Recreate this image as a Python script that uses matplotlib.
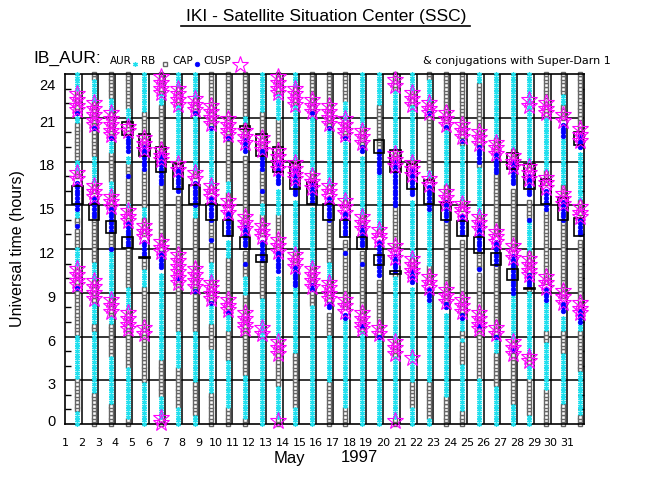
import numpy as np
import matplotlib
matplotlib.use("Agg")
import matplotlib.pyplot as plt
from matplotlib.patches import Rectangle
from matplotlib.lines import Line2D
from matplotlib.transforms import ScaledTranslation

# ---- data (hours UT, one entry per day of May 1997) ----
days = list(range(1, 32))

# intervals where the probe was in the auroral region (cyan asterisks);
# everything else in the day is radiation belt (grey squares)
aur_spans = [
    [(23, 24), (20.6, 21), (17.4, 18.1), (14.2, 14.7), (10.8, 12), (3.1, 6.1), (0, 0.8)],
    [(22.2, 23.6), (16.7, 18.4), (9.9, 11), (7, 8.3), (2.1, 6.3)],
    [(21.5, 22.3), (18.7, 19.5), (15.8, 16.6), (8.7, 12), (7, 7.4), (1.5, 4.5)],
    [(21, 21.5), (17.9, 18.4), (14.9, 15.2), (8, 9.3), (0.4, 3.8)],
    [(21.3, 24), (14.2, 14.9), (9.5, 10.5), (0, 2.8)],
    [(22, 22.6), (4.4, 10.5), (0.5, 1.9)],
    [(23.1, 24), (18.1, 21.8), (3.8, 6.4), (0, 1.2)],
    [(22.3, 24), (17.4, 21.2), (14.2, 14.9), (2.9, 6.4), (0, 0.5)],
    [(16.5, 20.3), (9.9, 11), (7, 8.3), (2.1, 5.1)],
    [(16, 16.6), (11.5, 12.7), (6.5, 7.6), (1.2, 4.4)],
    [(20.7, 21.0), (9, 10), (0.5, 3.4)],
    [(21.5, 24), (14.5, 15.2), (0, 8.5)],
    [(21, 22.6), (14.5, 16.3), (6, 10.3), (0.3, 2.5)],
    [(23.2, 24), (18.1, 21.8), (11.8, 15.6), (5, 9.4), (0, 1.2)],
    [(17.4, 21.1), (10.8, 15.1), (0, 8)],
    [(16.5, 20.3), (9.9, 11), (3, 6)],
    [(21, 22), (15.5, 19.5), (1.2, 7.2)],
    [(20.5, 24), (14.5, 18.5), (0, 6.4)],
    [(22, 24), (13.5, 17), (0, 5.8)],
    [(19, 22.9), (6, 10.2), (0.5, 4.5)],
    [(23, 24), (18.1, 21.8), (11.5, 15.6), (3, 9.6), (0, 1.0)],
    [(22.2, 23.5), (16.9, 17.4), (11, 14.5), (3, 8.3), (0, 0.3)],
    [(16.5, 20), (2, 7.5)],
    [(15.5, 19), (6.4, 7.2), (5.7, 5.9), (0.9, 4.2)],
    [(23.3, 24), (14.5, 17.5), (0, 3.1)],
    [(19.7, 24), (5, 5.8), (0, 2.6)],
    [(18.8, 24), (6, 9), (0, 1.4)],
    [(18, 24), (12, 14), (5, 9.2), (3.1, 4.2), (0, 0.7)],
    [(17.4, 21), (6.5, 8.5), (2.3, 5.5)],
    [(22, 22.5), (16.5, 19.5), (6.5, 7.5), (1.4, 4.8)],
    [(15.5, 18.5), (6.5, 6.9), (0.7, 3.7)],
]

# polar cap (blue dots); (t, t) is a single dot
cap_spans = [
    [(14.7, 16.7), (13.6, 13.6), (21.3, 21.3), (9.3, 9.3)],
    [(14.2, 15.7), (20.3, 20.3)],
    [(13.2, 14.8), (12, 12), (19.6, 19.6)],
    [(18.6, 19.8), (17, 17), (12.2, 13.8)],
    [(17.4, 19), (11.5, 12.7)],
    [(16.5, 18.6), (10.6, 11.8)],
    [(15.8, 17.6), (10, 10)],
    [(14.9, 16.7), (21.3, 21.3), (9.1, 9.1)],
    [(14, 15.7), (12.6, 12.6), (20.3, 20.3), (8.3, 8.3)],
    [(12.8, 14.7), (19.6, 19.6), (7.7, 7.7)],
    [(18.6, 19.5), (12.1, 13.6), (11, 11)],
    [(17.4, 18.8), (16, 16), (11.2, 12.7)],
    [(16.3, 18.1), (10.3, 11.8)],
    [(15.6, 17.6), (9.4, 10.8)],
    [(15.1, 16.5), (21.3, 21.3), (9.2, 9.5)],
    [(14, 15.7), (20.3, 20.3), (7.8, 8.3)],
    [(12.8, 14.7), (11.7, 11.7), (19.6, 19.6), (7.2, 7.7)],
    [(18.6, 19.1), (12.1, 13.6), (11, 11), (6.7, 6.7)],
    [(17.2, 18.8), (10.1, 12.7), (6, 6)],
    [(14.9, 18.1), (10.5, 11.7)],
    [(15.6, 17.6), (9.6, 10.6)],
    [(14.7, 16.4), (21.3, 21.3), (8.5, 9.4)],
    [(14, 15.3), (20.4, 20.4), (7.8, 8.3)],
    [(12.8, 14.4), (19.4, 19.4), (7.2, 7.6)],
    [(17.9, 19), (11.9, 13.8), (10.6, 10.6), (6.7, 6.7)],
    [(17.2, 18.6), (11, 12.7), (6, 6)],
    [(16.3, 18.1), (9, 11.7), (5.1, 5.1)],
    [(15.6, 17.2), (14, 14), (9.4, 10.3)],
    [(14.7, 16.2), (8.5, 9.4)],
    [(14, 15.4), (19.7, 20.7), (7.6, 8.4)],
    [(18.8, 19.8), (12.8, 14.2), (6.9, 7.8)],
]

# cusp crossings (magenta stars)
cusp_times = [
    [22.6, 22.2, 21.8, 21.5, 17.2, 16.8, 10.6, 10.2, 9.8, 9.5],
    [22.0, 21.6, 21.2, 20.8, 20.5, 16.3, 15.9, 15.6, 9.8, 9.4, 9.0, 8.6],
    [21.3, 20.9, 20.5, 20.1, 19.8, 15.6, 15.2, 14.9, 8.5, 8.1, 7.7],
    [20.4, 20.1, 14.6, 14.2, 13.9, 7.6, 7.2, 6.8, 6.5],
    [19.6, 19.2, 18.8, 13.6, 13.2, 12.8, 6.6, 6.2],
    [23.8, 23.4, 23.0, 22.7, 18.8, 18.4, 18.1, 12.5, 12.1, 11.8, 0.4, 0.1],
    [23.0, 22.6, 22.2, 21.9, 17.8, 17.4, 11.6, 11.2, 10.8, 10.4, 10.0, 9.7],
    [22.3, 21.9, 21.5, 17.2, 16.8, 10.6, 10.2, 9.8, 9.4],
    [21.8, 21.4, 21.0, 20.6, 16.3, 15.9, 15.6, 9.7, 9.3, 8.9, 8.6],
    [20.9, 20.5, 20.1, 19.8, 15.3, 14.9, 14.5, 8.5, 8.1, 7.8],
    [20.1, 19.7, 19.3, 14.2, 13.8, 13.4, 7.6, 7.2, 6.8, 6.5],
    [19.6, 19.2, 18.8, 13.6, 13.2, 12.8, 6.6, 6.2],
    [23.8, 23.4, 23.0, 22.7, 18.7, 18.3, 17.9, 17.5, 12.6, 12.2, 11.8, 5.6, 5.2, 4.8, 0.2],
    [23.0, 22.6, 22.2, 21.9, 17.9, 17.5, 17.1, 16.8, 11.6, 11.2, 10.8],
    [22.2, 21.8, 21.4, 17.0, 16.6, 16.2, 10.6, 10.2, 9.8, 9.4],
    [21.8, 21.4, 21.0, 20.6, 16.3, 15.9, 15.6, 9.7, 9.3, 8.9, 8.6],
    [20.9, 20.5, 20.1, 19.8, 15.3, 14.9, 14.5, 8.5, 8.1, 7.7],
    [20.1, 19.7, 19.3, 14.2, 13.8, 13.4, 7.6, 7.2, 6.8, 6.5],
    [13.3, 12.9, 12.6, 6.6, 6.2],
    [23.6, 23.2, 18.5, 18.1, 17.7, 12.2, 11.8, 11.4, 5.6, 5.2, 4.8, 0.2],
    [22.7, 22.3, 21.9, 17.9, 17.5, 17.1, 11.3, 10.9, 10.5, 10.2, 4.5],
    [22.0, 21.6, 21.3, 16.8, 16.4, 10.1, 9.7, 9.3],
    [21.3, 20.9, 20.5, 15.9, 15.5, 15.1, 9.2, 8.8, 8.4],
    [20.5, 20.1, 19.7, 15.1, 14.7, 14.4, 8.5, 8.1, 7.7],
    [20.0, 19.6, 19.2, 14.2, 13.8, 13.4, 7.6, 7.2, 6.8, 6.5],
    [19.3, 18.9, 18.5, 13.2, 12.8, 12.5, 6.6, 6.2],
    [18.4, 18.0, 17.6, 12.2, 11.8, 11.4, 5.6, 5.2, 4.8],
    [22.2, 21.8, 17.6, 17.2, 16.8, 11.3, 10.9, 10.5, 10.2, 4.6, 4.3],
    [22.0, 21.6, 21.3, 16.9, 16.5, 16.2, 10.1, 9.7, 9.3],
    [21.2, 20.8, 15.8, 15.4, 15.1, 9.1, 8.7, 8.3],
    [20.2, 19.8, 19.4, 14.9, 14.5, 14.2, 8.3, 7.9, 7.6],
]

# conjugations with Super-Darn (black boxes), (start, end) in hours
sd_boxes = [
    [(15.1, 16.3)], [(14.0, 15.1)], [(13.1, 13.9)], [(19.8, 20.7), (12.1, 12.8)],
    [(18.4, 19.9), (11.35, 11.45)], [(17.3, 19.0)], [(16.1, 17.8)], [(15.1, 16.4)],
    [(14.0, 15.1)], [(12.9, 14.0)], [(20.2, 20.45), (12.0, 12.8)],
    [(18.4, 19.9), (11.1, 11.6)], [(17.3, 19.0)], [(16.1, 17.9)], [(15.1, 16.6)],
    [(14.0, 15.1)], [(12.8, 14.0)], [(12.0, 12.8)], [(18.6, 19.5), (10.9, 11.6)],
    [(17.3, 18.8), (10.3, 10.5)], [(16.1, 17.8)], [(15.1, 16.7)], [(14.0, 15.2)],
    [(12.9, 13.9)], [(11.7, 12.8)], [(10.9, 11.7)], [(17.5, 18.6), (9.9, 10.6)],
    [(16.1, 17.8), (9.25, 9.35)], [(15.1, 16.8)], [(14.0, 15.5)],
    [(19.1, 20.0), (12.9, 14.1)],
]

step = 0.25          # sampling cadence of the orbit data, hours
col_off = 0.74       # data column sits right of the day line
y_ticks = [0, 3, 6, 9, 12, 15, 18, 21, 24]

C_AUR = "#22e0ee"
C_RB = "#666666"
C_CAP = "#0000ff"
C_CUSP = "#ff00ff"

AUR_STYLE = dict(marker=(6, 2, 0), ms=3.5, mec=C_AUR, mew=0.9)
RB_STYLE = dict(marker="s", ms=3.4, mfc="white", mec=C_RB, mew=1.0)
CAP_STYLE = dict(marker="o", ms=3.3, mfc=C_CAP, mec=C_CAP, mew=0.5)
CUSP_STYLE = dict(marker="*", ms=12.5, mfc="none", mec=C_CUSP, mew=0.8)


def inside(t, spans, tol=0.0):
    return any(a - tol <= t <= b + tol for a, b in spans)


tgrid = np.arange(0, 24.001, step)
aur_x, aur_y, rb_x, rb_y, cap_x, cap_y, cu_x, cu_y = [], [], [], [], [], [], [], []
for i, d in enumerate(days):
    x = d + col_off
    caps = cap_spans[i]
    long_caps = [(a, b) for a, b in caps if b > a]
    ct = [t for t in tgrid if inside(t, long_caps)] + [a for a, b in caps if a == b]
    cap_x += [x] * len(ct)
    cap_y += ct
    for t in tgrid:
        if inside(t, caps, 0.12):
            continue
        if inside(t, aur_spans[i]):
            aur_x.append(x)
            aur_y.append(t)
        else:
            rb_x.append(x)
            rb_y.append(t)
    cu_x += [x] * len(cusp_times[i])
    cu_y += cusp_times[i]

W, H = 650, 500
fig = plt.figure(figsize=(6.5, 5), dpi=100)
ax = fig.add_axes([65 / W, 76 / H, 519 / W, 350 / H])
ax.set_xlim(1, 32)
ax.set_ylim(0, 24)

for yy in y_ticks[1:-1]:
    ax.axhline(yy, color="black", lw=1.1, zorder=1)
for d in days[1:]:
    ax.axvline(d, color="black", lw=1.1, zorder=1)

ax.plot(rb_x, rb_y, ls="none", zorder=2, clip_on=False, **RB_STYLE)
ax.plot(aur_x, aur_y, ls="none", zorder=3, clip_on=False, **AUR_STYLE)
ax.plot(cap_x, cap_y, ls="none", zorder=4, clip_on=False, **CAP_STYLE)
for i, d in enumerate(days):
    for lo, hi in sd_boxes[i]:
        ax.add_patch(Rectangle((d + col_off - 0.31, lo), 0.62, hi - lo, fill=False,
                               ec="black", lw=1.2, zorder=5))
ax.plot(cu_x, cu_y, ls="none", zorder=6, clip_on=False, **CUSP_STYLE)

for s in ax.spines.values():
    s.set_linewidth(1.2)

ax.set_xticks(days)
ax.set_xticklabels([str(d) for d in days], fontsize=8, family="DejaVu Sans")
ax.tick_params(axis="x", length=0, pad=10)
ax.set_yticks(y_ticks)
ax.set_yticklabels([str(v) for v in y_ticks], fontsize=10.5, family="Liberation Sans")
ax.tick_params(axis="y", which="major", length=0, pad=7)
ax.set_yticks(np.arange(1, 24), minor=True)
ax.tick_params(axis="y", which="minor", direction="in", length=4.5, width=1,
               left=True, right=True)
shifts = {0: 4, 24: -10}
for v, lab in zip(y_ticks, ax.get_yticklabels()):
    dy = shifts.get(v, -3.5) / 100
    lab.set_transform(lab.get_transform() + ScaledTranslation(0, dy, fig.dpi_scale_trans))

ax.set_ylabel("Universal time (hours)", fontsize=11.5, family="Liberation Sans", labelpad=10)


def px(x, y):
    return x / W, 1 - y / H


fig.text(*px(326, 16), "IKI - Satellite Situation Center (SSC)", fontsize=12.5,
         family="Liberation Sans", ha="center", va="center")
fig.add_artist(Line2D([181 / W, 470 / W], [1 - 26 / H, 1 - 26 / H], color="black", lw=1.2))
fig.text(*px(33, 58), "IB_AUR:", fontsize=12.5, family="Liberation Sans", va="center")
fig.text(*px(110, 61), "AUR", fontsize=7.5, va="center")
fig.text(*px(141, 61), "RB", fontsize=7.5, va="center")
fig.text(*px(172, 61), "CAP", fontsize=7.5, va="center")
fig.text(*px(203, 61), "CUSP", fontsize=7.5, va="center")
fig.add_artist(Line2D([135 / W], [1 - 64 / H], **AUR_STYLE))
fig.add_artist(Line2D([165 / W], [1 - 64 / H], **RB_STYLE))
fig.add_artist(Line2D([197 / W], [1 - 64 / H], **CAP_STYLE))
fig.add_artist(Line2D([240 / W], [1 - 65 / H], **CUSP_STYLE))
fig.text(*px(423, 61), "& conjugations with Super-Darn 1", fontsize=8, va="center")
fig.text(*px(289, 458), "May", fontsize=12, family="Liberation Sans", ha="center", va="center")
fig.text(*px(359, 458), "1997", fontsize=12, family="Liberation Sans", ha="center", va="center")

fig.savefig("out.png", dpi=100)
